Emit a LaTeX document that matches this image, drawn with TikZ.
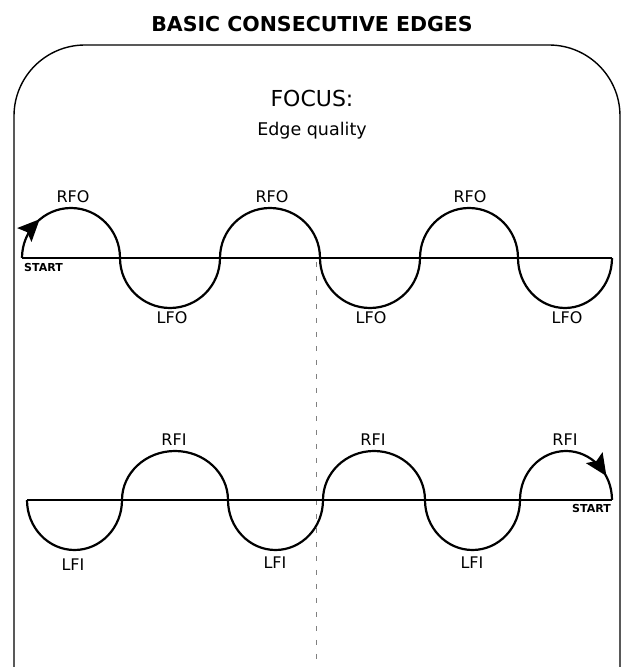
\documentclass[tikz,border=0pt]{standalone}
\usepackage{fontspec}
\setmainfont{DejaVu Sans}
\usetikzlibrary{arrows.meta,decorations.markings}
\tikzset{
  edge/.style={line width=2.2pt},
  base/.style={line width=2.2pt},
  frame/.style={line width=1.4pt, rounded corners=71pt},
  lbl/.style={font=\fontsize{16}{18}\selectfont, inner sep=0pt},
  startlbl/.style={font=\bfseries\fontsize{11}{12}\selectfont, inner sep=0pt},
  axis/.style={line width=0.6pt, gray, dash pattern=on 5pt off 9pt},
  arrowat/.style={postaction={decorate, decoration={markings,
      mark=at position #1 with {\fill (5pt,0pt) -- (-17pt,10pt) -- (-13pt,0pt) -- (-17pt,-10pt) -- cycle;}}}}
}
\begin{document}
\begin{tikzpicture}[x=1pt,y=1pt]
\useasboundingbox (0,0) rectangle (624,667);
% title and frame
\node[font=\bfseries\fontsize{20.5}{24}\selectfont, inner sep=0pt] (title) at (312,643) {BASIC CONSECUTIVE EDGES};
\draw[frame] (14,0) -- (14,622) -- (620,622) -- (620,0);
\node[font=\fontsize{22}{26}\selectfont, inner sep=0pt] (focus) at (312,569) {FOCUS:};
\node[font=\fontsize{17.5}{20}\selectfont, inner sep=0pt] (quality) at (312,536) {Edge quality};
% centre line
\coordinate (ctop) at (316,405);
\coordinate (cbot) at (316,0);
\draw[axis] (ctop) -- (cbot);
% top row
\coordinate (t0) at (22,409);
\coordinate (t1) at (120,409);
\coordinate (t2) at (220,409);
\coordinate (t3) at (320,409);
\coordinate (t4) at (420,409);
\coordinate (t5) at (518,409);
\coordinate (t6) at (612,409);
\draw[base] (t0) -- (t6);
\draw[edge, arrowat=0.25] (t0) arc[start angle=180, end angle=0, x radius=49, y radius=50];
\draw[edge] (t1) arc[start angle=180, end angle=360, x radius=50, y radius=50];
\draw[edge] (t2) arc[start angle=180, end angle=0, x radius=50, y radius=50];
\draw[edge] (t3) arc[start angle=180, end angle=360, x radius=50, y radius=50];
\draw[edge] (t4) arc[start angle=180, end angle=0, x radius=49, y radius=50];
\draw[edge] (t5) arc[start angle=180, end angle=360, x radius=47, y radius=50];
\node[startlbl, anchor=north west] (start1) at (24,404) {START};
\node[lbl] (rfo1) at (73,470) {RFO};
\node[lbl] (rfo2) at (272,470) {RFO};
\node[lbl] (rfo3) at (470,470) {RFO};
\node[lbl] (lfo1) at (172,349) {LFO};
\node[lbl] (lfo2) at (371,349) {LFO};
\node[lbl] (lfo3) at (567,349) {LFO};
% bottom row
\coordinate (b0) at (27,167);
\coordinate (b1) at (122,167);
\coordinate (b2) at (228,167);
\coordinate (b3) at (323,167);
\coordinate (b4) at (425,167);
\coordinate (b5) at (520,167);
\coordinate (b6) at (612,167);
\draw[base] (b0) -- (b6);
\draw[edge] (b0) arc[start angle=180, end angle=360, x radius=47.5, y radius=50];
\draw[edge] (b1) arc[start angle=180, end angle=0, x radius=53, y radius=49];
\draw[edge] (b2) arc[start angle=180, end angle=360, x radius=47.5, y radius=50];
\draw[edge] (b3) arc[start angle=180, end angle=0, x radius=51, y radius=49];
\draw[edge] (b4) arc[start angle=180, end angle=360, x radius=47.5, y radius=50];
\draw[edge, arrowat=0.8] (b5) arc[start angle=180, end angle=0, x radius=46, y radius=49];
\node[startlbl, anchor=north east] (start2) at (611,163) {START};
\node[lbl] (rfi1) at (174,227) {RFI};
\node[lbl] (rfi2) at (373,227) {RFI};
\node[lbl] (rfi3) at (565,227) {RFI};
\node[lbl] (lfi1) at (73,102) {LFI};
\node[lbl] (lfi2) at (275,104) {LFI};
\node[lbl] (lfi3) at (472,104) {LFI};
\end{tikzpicture}
\end{document}
